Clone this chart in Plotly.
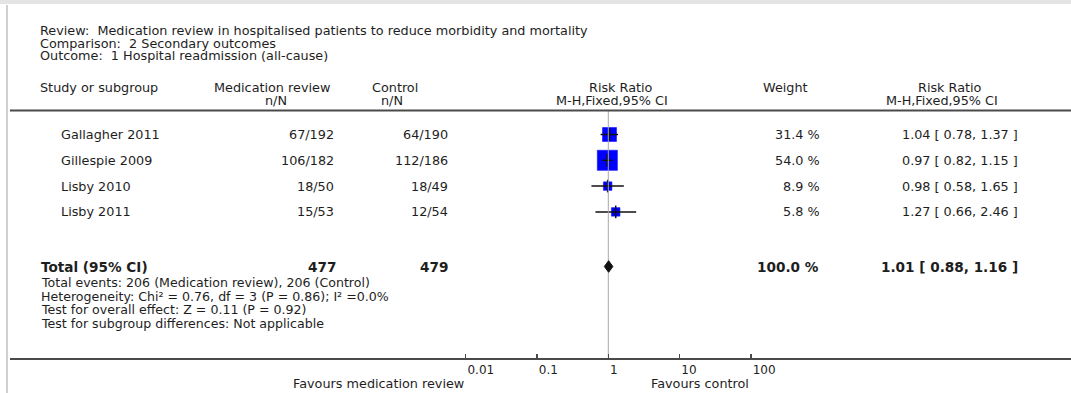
import math
import plotly.graph_objects as go

# ---------------- data ----------------
studies = ["Gallagher 2011", "Gillespie 2009", "Lisby 2010", "Lisby 2011"]
med_events = [67, 106, 18, 15]
med_total = [192, 182, 50, 53]
ctl_events = [64, 112, 18, 12]
ctl_total = [190, 186, 49, 54]
weights = [31.4, 54.0, 8.9, 5.8]
rr = [1.04, 0.97, 0.98, 1.27]
rr_lo = [0.78, 0.82, 0.58, 0.66]
rr_hi = [1.37, 1.15, 1.65, 2.46]

total_label = "Total (95% CI)"
total_med_N = 477
total_ctl_N = 479
total_weight = 100.0
total_rr = 1.01
total_lo = 0.88
total_hi = 1.16

header_lines = [
    "Review:  Medication review in hospitalised patients to reduce morbidity and mortality",
    "Comparison:  2 Secondary outcomes",
    "Outcome:  1 Hospital readmission (all-cause)",
]
footnotes = [
    "Total events: 206 (Medication review), 206 (Control)",
    "Heterogeneity: Chi² = 0.76, df = 3 (P = 0.86); I² =0.0%",
    "Test for overall effect: Z = 0.11 (P = 0.92)",
    "Test for subgroup differences: Not applicable",
]
tick_vals = [0.01, 0.1, 1, 10, 100]
tick_text = ["0.01", "0.1", "1", "10", "100"]
favours_left = "Favours medication review"
favours_right = "Favours control"

# ---------------- layout geometry (pixels) ----------------
W, H = 1071, 393
FONT = "DejaVu Sans"
TXT = "#1e1e1e"
FS = 12.8
FS_BOLD = 13.6
axis_y = 358          # pixel row of the x axis line
left_edge = 10
one_px = 608.3        # pixel of RR = 1
px_per_decade = 71.3
row0, row_step = 134.5, 25.8
total_y = 266.5


def pxx(p):
    return p / W


def pxy(p):
    return 1 - p / H


row_y = [row0 + i * row_step for i in range(len(studies))]

fig = go.Figure()

# squares (area ~ weight)
sizes = [max(8.5, 0.27 * w + 5.5) for w in weights]
fig.add_trace(go.Scatter(
    x=rr, y=row_y, mode="markers",
    marker=dict(symbol="square", size=sizes, color="#0000ff", opacity=1,
                line=dict(color="#1010ff", width=0.6)),
    hoverinfo="skip", showlegend=False))

# confidence interval lines
for lo, hi, y in zip(rr_lo, rr_hi, row_y):
    fig.add_trace(go.Scatter(
        x=[lo, hi], y=[y, y], mode="lines",
        line=dict(color="#111111", width=1.5),
        hoverinfo="skip", showlegend=False))

# point estimate ticks
fig.add_trace(go.Scatter(
    x=rr, y=row_y, mode="markers",
    marker=dict(symbol="line-ns", size=9,
                line=dict(color="#111111", width=1.5)),
    hoverinfo="skip", showlegend=False))

# reference line at RR = 1
fig.add_trace(go.Scatter(
    x=[1, 1], y=[110.5, axis_y], mode="lines",
    line=dict(color="#a8a8a8", width=1),
    hoverinfo="skip", showlegend=False))

# pooled diamond
dh = 5.8
fig.add_trace(go.Scatter(
    x=[total_lo, total_rr, total_hi, total_rr, total_lo],
    y=[total_y, total_y - dh, total_y, total_y + dh, total_y],
    mode="lines", fill="toself", fillcolor="#111111",
    line=dict(color="#111111", width=1),
    hoverinfo="skip", showlegend=False))

r0 = (left_edge - one_px) / px_per_decade
r1 = (W - one_px) / px_per_decade

fig.update_layout(
    width=W, height=H,
    margin=dict(l=0, r=0, t=0, b=0),
    paper_bgcolor="white", plot_bgcolor="white",
    showlegend=False,
    font=dict(family=FONT, size=FS, color=TXT),
    xaxis=dict(
        type="log", domain=[left_edge / W, 1], range=[r0, r1],
        showline=True, linecolor="#4a4a4a", linewidth=2,
        ticks="inside", ticklen=4, tickwidth=1.5, tickcolor="#4a4a4a",
        tickvals=tick_vals, ticktext=tick_text,
        ticklabelposition="outside right",
        tickfont=dict(family=FONT, size=12, color=TXT),
        showgrid=False, zeroline=False, fixedrange=True,
    ),
    yaxis=dict(
        domain=[(H - axis_y) / H, 1], range=[axis_y, 0],
        visible=False, showgrid=False, zeroline=False, fixedrange=True,
    ),
)

# frame decorations
fig.add_shape(type="rect", xref="paper", yref="paper",
              x0=0, x1=1, y0=pxy(4), y1=1,
              fillcolor="#e4e4e4", line=dict(width=0), layer="below")
fig.add_shape(type="line", xref="paper", yref="paper",
              x0=pxx(7), x1=pxx(7), y0=0, y1=pxy(5),
              line=dict(color="#d0d0d0", width=2))
# header rule
fig.add_shape(type="line", xref="paper", yref="y",
              x0=left_edge / W, x1=1, y0=110.5, y1=110.5,
              line=dict(color="#4a4a4a", width=2))

annotations = []


def txt(s, x, y, anchor="left", bold=False, size=FS):
    if bold:
        s = "<b>" + s + "</b>"
    annotations.append(dict(
        text=s, x=pxx(x), y=pxy(y), xref="paper", yref="paper",
        xanchor=anchor, yanchor="middle", showarrow=False,
        font=dict(family=FONT, size=size, color=TXT)))


# title block
for i, line in enumerate(header_lines):
    txt(line, 38, 31 + i * 12.4)

# column headers
txt("Study or subgroup", 38, 87.5)
txt("Medication review", 272, 87.5, "center")
txt("n/N", 276, 100, "center")
txt("Control", 395, 87.5, "center")
txt("n/N", 392, 100, "center")
txt("Risk Ratio", 621, 87.5, "center")
txt("M-H,Fixed,95% CI", 612, 100, "center")
txt("Weight", 786, 87.5, "center")
txt("Risk Ratio", 950, 87.5, "center")
txt("M-H,Fixed,95% CI", 942, 100, "center")

# study rows
for i, y in enumerate(row_y):
    txt(studies[i], 59, y)
    txt(f"{med_events[i]}/{med_total[i]}", 336, y, "right")
    txt(f"{ctl_events[i]}/{ctl_total[i]}", 450, y, "right")
    txt(f"{weights[i]:.1f} %", 822, y, "right")
    txt(f"{rr[i]:.2f} [ {rr_lo[i]:.2f}, {rr_hi[i]:.2f} ]", 1020, y, "right")

# total row
txt(total_label, 39, total_y, bold=True, size=FS_BOLD)
txt(str(total_med_N), 338, total_y, "right", bold=True, size=FS_BOLD)
txt(str(total_ctl_N), 450, total_y, "right", bold=True, size=FS_BOLD)
txt(f"{total_weight:.1f} %", 821, total_y, "right", bold=True, size=FS_BOLD)
txt(f"{total_rr:.2f} [ {total_lo:.2f}, {total_hi:.2f} ]", 1020, total_y,
    "right", bold=True, size=FS_BOLD)

for i, line in enumerate(footnotes):
    txt(line, 39, 282.5 + i * 13.5, size=12.6)

# favours labels, anchored to axis ticks
annotations.append(dict(
    text=favours_left, x=math.log10(tick_vals[0]), y=pxy(383),
    xref="x", yref="paper", xanchor="right", yanchor="middle",
    showarrow=False, font=dict(family=FONT, size=FS, color=TXT)))
annotations.append(dict(
    text=favours_right, x=math.log10(tick_vals[-1]), y=pxy(383),
    xref="x", yref="paper", xanchor="right", yanchor="middle",
    showarrow=False, font=dict(family=FONT, size=FS, color=TXT)))

fig.update_layout(annotations=annotations)

fig.write_html(
    "out.html",
    config={"displayModeBar": False, "staticPlot": True},
    post_script="document.body.style.margin='0';document.body.style.overflow='hidden';",
)
